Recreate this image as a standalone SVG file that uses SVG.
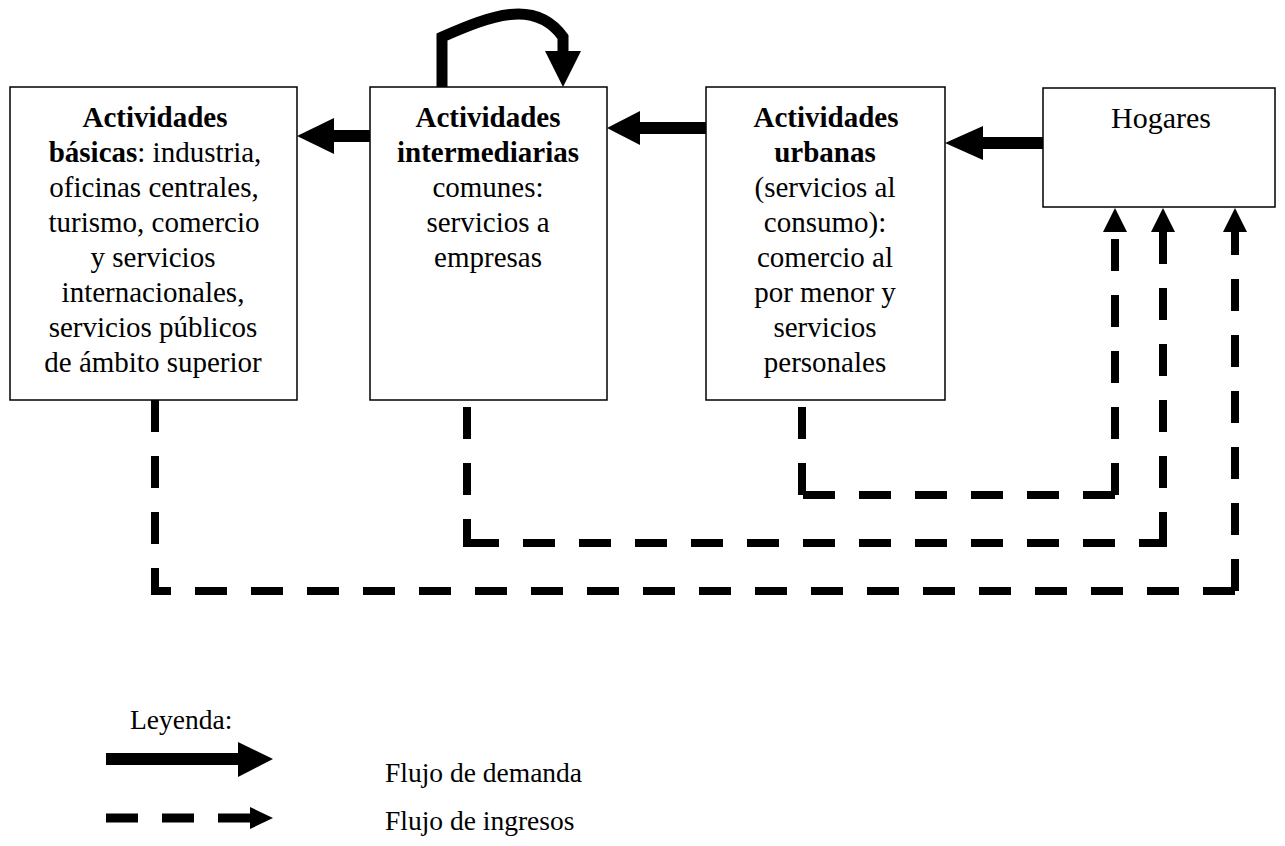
<svg xmlns="http://www.w3.org/2000/svg" width="1285" height="846" viewBox="0 0 1285 846">
<style>
.box{fill:#fff;stroke:#000;stroke-width:1.5}
.t{font-family:"Liberation Serif","Times New Roman",serif;font-size:29px;fill:#000;text-anchor:middle}
.b{font-weight:bold}
.lg{font-family:"Liberation Serif","Times New Roman",serif;font-size:27.5px;fill:#000}
.solid{fill:none;stroke:#000;stroke-width:12}
.dash{fill:none;stroke:#000;stroke-width:8;stroke-dasharray:32 24}
.head{fill:#000;stroke:none}
</style>
<rect width="1285" height="846" fill="#fff"/>
<g id="n1">
<rect class="box" x="10" y="87" width="287" height="313"/>
<text class="t"><tspan class="b" x="155" y="127">Actividades</tspan><tspan x="155" y="162"><tspan class="b">básicas</tspan>: industria,</tspan><tspan x="154" y="197">oficinas centrales,</tspan><tspan x="154" y="232">turismo, comercio</tspan><tspan x="153" y="267">y servicios</tspan><tspan x="153" y="302">internacionales,</tspan><tspan x="153" y="337">servicios públicos</tspan><tspan x="153" y="372">de ámbito superior</tspan></text>
</g>
<g id="n2">
<rect class="box" x="370" y="87" width="237" height="313"/>
<text class="t"><tspan class="b" x="488" y="127">Actividades</tspan><tspan class="b" x="488" y="162">intermediarias</tspan><tspan x="488" y="197">comunes:</tspan><tspan x="488" y="232">servicios a</tspan><tspan x="488" y="267">empresas</tspan></text>
</g>
<g id="n3">
<rect class="box" x="706" y="87" width="239" height="313"/>
<text class="t"><tspan class="b" x="826" y="127">Actividades</tspan><tspan class="b" x="825" y="162">urbanas</tspan><tspan x="825" y="197">(servicios al</tspan><tspan x="825" y="232">consumo):</tspan><tspan x="825" y="267">comercio al</tspan><tspan x="825" y="302">por menor y</tspan><tspan x="825" y="337">servicios</tspan><tspan x="825" y="372">personales</tspan></text>
</g>
<g id="n4">
<rect class="box" x="1043" y="88" width="232" height="119"/>
<text class="t" style="font-size:30px"><tspan x="1161" y="128">Hogares</tspan></text>
</g>
<g id="connectors">
<line class="solid" x1="370" y1="136" x2="333" y2="136"/>
<polygon class="head" points="297,136 334,118 334,154"/>
<line class="solid" x1="706" y1="128" x2="639" y2="128"/>
<polygon class="head" points="607,128 640,111 640,145"/>
<line class="solid" x1="1043" y1="143" x2="982" y2="143"/>
<polygon class="head" points="945,143 983,126 983,160"/>
<path d="M442,87 L442,37 C490,16 535,-2 563,37 L563,52" fill="none" stroke="#000" stroke-width="11"/>
<polygon class="head" points="563,87 545,51 581,51"/>
<line class="dash" x1="155" y1="400" x2="155" y2="595"/>
<line class="dash" x1="1235" y1="591" x2="151" y2="591"/>
<line class="dash" x1="1235" y1="591" x2="1235" y2="232"/>
<polygon class="head" points="1235,208 1223,232 1247,232"/>
<line class="dash" x1="467" y1="407" x2="467" y2="547"/>
<line class="dash" x1="467" y1="543" x2="1167" y2="543"/>
<line class="dash" x1="1163" y1="544" x2="1163" y2="232"/>
<polygon class="head" points="1163,208 1151,232 1175,232"/>
<line class="dash" x1="802" y1="407" x2="802" y2="499"/>
<line class="dash" x1="1115" y1="495" x2="798" y2="495"/>
<line class="dash" x1="1115" y1="495" x2="1115" y2="232"/>
<polygon class="head" points="1115,208 1103,232 1127,232"/>
</g>
<g id="legend">
<text class="lg" x="130" y="729">Leyenda:</text>
<line class="solid" x1="106" y1="759" x2="239" y2="759"/>
<polygon class="head" points="273,759 238,742 238,777"/>
<line x1="106" y1="818" x2="252" y2="818" stroke="#000" stroke-width="9" stroke-dasharray="32 24"/>
<polygon class="head" points="273,818 250,807 250,829"/>
<text class="lg" x="385" y="782">Flujo de demanda</text>
<text class="lg" x="385" y="830">Flujo de ingresos</text>
</g>
</svg>
